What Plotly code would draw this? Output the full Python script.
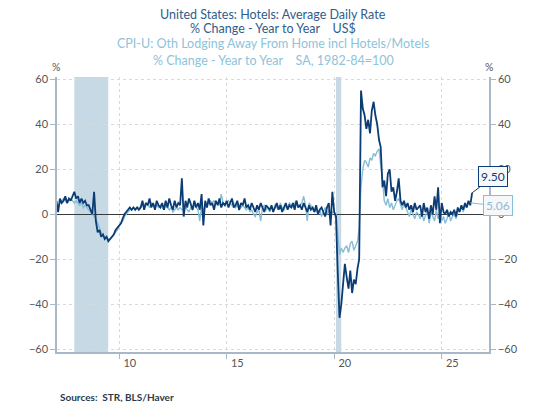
import plotly.graph_objects as go
import pandas as pd

# Hotels: Average Daily Rate, % change y/y (monthly, from Feb 2007)
adr_yoy = [
    6, 1, 7, 5, 6, 8, 5, 7, 6, 8, 10,                 # 2007 Feb-Dec
    7, 8, 5, 7, 5, 6, 4, 4, 2, 0, 10, -3,             # 2008
    -8, -7, -10, -9, -11, -10, -12, -11, -10, -9, -7, -6,  # 2009
    -5, -4, -2, 0, 1, 2, 3, 2, 3, 2, 3, 2,            # 2010
    3, 6, 2, 5, 4, 7, 3, 5, 2, 6, 4, 3,               # 2011
    5, 2, 6, 3, 7, 4, 2, 6, 3, 5, 4, 16,              # 2012
    -1, 6, 3, 7, 4, 2, 6, 3, 5, 2, 9, -5,             # 2013
    6, 3, 7, 4, 5, 2, 6, 4, 7, 3, 5, 4,               # 2014
    6, 3, 5, 7, 3, 4, 6, 2, 5, 4, 7, 3,               # 2015
    4, 2, 5, 3, 1, 4, 2, 5, 3, 1, 4, 3,               # 2016
    2, 4, 1, 3, 5, 2, 4, 1, 3, 5, 2, 4,               # 2017
    3, 5, 2, 6, 3, 4, 2, 5, 3, 1, 4, 2,               # 2018
    3, 1, 4, 0, 2, 3, 1, -1, 3, 5, -5, 10,            # 2019
    1, -1, -25, -46, -40, -30, -22, -28, -33, -25, -35, -29,  # 2020
    -31, -24, -20, 55, 47, 44, 38, 42, 36, 46, 50, 44,  # 2021
    40, 33, 30, 12, 15, 8, 18, 20, 10, 12, 6, 10,     # 2022
    16, 6, 4, 6, 3, 5, 2, 4, 1, 5, 2, 3,              # 2023
    4, -1, 5, 1, 3, -2, 4, 0, 8, 2, 12, -4,           # 2024
    5, 1, 0, 2, -1, 1, 0, 2, -1, 3, 1, 4,             # 2025
    2, 5, 3, 6, 4, 9.5,                               # 2026 Jan-Jun
]

# CPI-U: Other Lodging Away From Home incl Hotels/Motels, % change y/y
cpi_lodging_yoy = [
    4, 3, 5, 6, 7, 6, 5, 6, 7, 6, 5,                  # 2007 Feb-Dec
    6, 5, 4, 5, 3, 4, 3, 2, 1, 0, -1, -2,             # 2008
    -4, -6, -8, -9, -10, -10, -11, -11, -10, -9, -8, -7,  # 2009
    -5, -4, -3, -1, 0, 1, 2, 2, 3, 2, 3, 3,           # 2010
    3, 4, 4, 5, 4, 3, 5, 4, 3, 4, 3, 4,               # 2011
    3, 2, 4, 3, 2, 3, 1, 2, 3, 2, 3, 2,               # 2012
    2, 3, 2, 1, 3, 2, 4, 3, 2, -3, 4, 2,              # 2013
    3, 4, 5, 6, 5, 6, 5, 5, 4, 9, 5, 4,               # 2014
    5, 6, 5, 4, 5, 3, 4, 2, 3, 4, 3, 2,               # 2015
    3, 1, 2, 0, -1, 1, 2, -3, 3, 4, 2, 3,             # 2016
    1, 3, 2, 4, 3, 2, 5, 3, 2, 4, 3, 5,               # 2017
    4, 3, 5, 6, 3, 4, 5, 8, 4, -3, 5, 4,              # 2018
    2, 1, 3, 0, 2, -1, 1, 3, 0, 2, -2, 1,             # 2019
    1, 0, -8, -18, -15, -17, -15, -14, -17, -13, -12, -16,  # 2020
    -14, -12, -6, 12, 20, 24, 23, 21, 25, 24, 27, 26,  # 2021
    28, 29, 22, 16, 6, 4, 7, 3, 5, 2, 4, 6,           # 2022
    7, 4, 2, 5, 3, 1, -1, 2, 0, -2, 1, 0,             # 2023
    -2, 1, -3, 0, 2, -4, 1, -1, -3, 2, -2, 0,         # 2024
    -3, -1, -4, -2, 1, -3, -1, 0, -2, 1, 2, 3,        # 2025
    1, 4, 3, 5, 5.06,                                 # 2026 Jan-May
]

recession_start = ["2007-12-01", "2020-02-01"]
recession_end = ["2009-06-30", "2020-04-30"]

tick_years = ["2010-01-01", "2015-01-01", "2020-01-01", "2025-01-01"]
tick_text = ["10", "15", "20", "25"]
y_ticks = [-60, -40, -20, 0, 20, 40, 60]

dates_adr = pd.date_range("2007-02-01", periods=len(adr_yoy), freq="MS")
dates_cpi = pd.date_range("2007-02-01", periods=len(cpi_lodging_yoy), freq="MS")

DARK = "#0c3c74"
LIGHT = "#88bdd6"
AXIS = "#a9b8c8"
GRID = "#d9d9d9"
FONT = "Lato, 'Open Sans', sans-serif"
TICKFONT = dict(family=FONT, size=11, color="#555555")

fig = go.Figure()
fig.add_trace(go.Scatter(x=dates_cpi, y=cpi_lodging_yoy, mode="lines",
                         line=dict(color=LIGHT, width=1.4), showlegend=False))
fig.add_trace(go.Scatter(x=dates_adr, y=adr_yoy, mode="lines",
                         line=dict(color=DARK, width=1.8), showlegend=False))
# invisible trace to bring in the right axis
fig.add_trace(go.Scatter(x=[dates_adr[0]], y=[0], yaxis="y2", mode="lines",
                         line=dict(width=0), showlegend=False, hoverinfo="skip"))

for s, e in zip(recession_start, recession_end):
    fig.add_shape(type="rect", xref="x", yref="paper", x0=s, x1=e, y0=0, y1=1,
                  fillcolor="#c6d9e4", line=dict(width=0), layer="below")

fig.update_layout(
    width=545, height=402,
    margin=dict(l=57, r=56, t=77, b=50),
    paper_bgcolor="white", plot_bgcolor="white",
    showlegend=False,
    xaxis=dict(type="date", range=["2007-02-10", "2027-03-15"],
               tickvals=tick_years, ticktext=tick_text,
               ticks="outside", ticklen=5, tickcolor=AXIS,
               ticklabelposition="outside right", ticklabelshift=3,
               tickfont=TICKFONT,
               showline=True, linecolor=AXIS, linewidth=1.5,
               showgrid=True, gridcolor=GRID, griddash="dot", gridwidth=1,
               zeroline=False),
    yaxis=dict(range=[-61.2, 61.0], tickvals=y_ticks,
               ticks="outside", ticklen=5, tickcolor=AXIS,
               tickfont=TICKFONT,
               showline=True, linecolor=AXIS, linewidth=1.5,
               showgrid=True, gridcolor=GRID, griddash="dot", gridwidth=1,
               zeroline=True, zerolinecolor="#3a3a3a", zerolinewidth=1.2),
    yaxis2=dict(range=[-61.2, 61.0], tickvals=y_ticks, overlaying="y", side="right",
                ticks="outside", ticklen=5, tickcolor=AXIS,
                tickfont=TICKFONT,
                showline=True, linecolor=AXIS, linewidth=1.5,
                showgrid=False, zeroline=False),
)

title_lines = [
    ("United States: Hotels: Average Daily Rate", "#2f5d8c", 14),
    ("% Change - Year to Year    US$", "#2f5d8c", 29),
    ("CPI-U: Oth Lodging Away From Home incl Hotels/Motels", "#8ec3da", 44),
    ("% Change - Year to Year    SA, 1982-84=100", "#8ec3da", 60),
]
plot_top, plot_h = 77, 275
for text, col, ypx in title_lines:
    fig.add_annotation(text=text, xref="paper", yref="paper", x=0.5,
                       y=1 + (plot_top - ypx) / plot_h, yanchor="middle",
                       showarrow=False, font=dict(family=FONT, size=12.5, color=col))

for xp in [(50 - 57) / 432, (495 - 57) / 432]:
    fig.add_annotation(text="%", xref="paper", yref="paper", x=xp,
                       y=1 + (plot_top - 67) / plot_h, yanchor="middle",
                       showarrow=False, font=dict(family=FONT, size=10.5, color="#555555"))

fig.add_annotation(text="<b>Sources:  STR, BLS/Haver</b>", xref="paper", yref="paper",
                   x=(58 - 57) / 432, xanchor="left",
                   y=-(397 - 352) / plot_h, yanchor="middle", showarrow=False,
                   font=dict(family=FONT, size=10, color="#2b3a4a"))

# end-value labels
fig.add_annotation(x=dates_adr[-1], y=adr_yoy[-1], xref="x", yref="y",
                   text=f"{adr_yoy[-1]:.2f}", showarrow=True, arrowhead=0,
                   arrowcolor=DARK, arrowwidth=1, ax=21, ay=-16,
                   bordercolor=DARK, borderwidth=1, borderpad=2, bgcolor="#f6f7f9",
                   font=dict(family=FONT, size=12, color=DARK))
fig.add_annotation(x=dates_cpi[-1], y=cpi_lodging_yoy[-1], xref="x", yref="y",
                   text=f"{cpi_lodging_yoy[-1]:.2f}", showarrow=True, arrowhead=0,
                   arrowcolor=LIGHT, arrowwidth=1, ax=28, ay=3,
                   bordercolor=LIGHT, borderwidth=1, borderpad=2, bgcolor="#f6f7f9",
                   font=dict(family=FONT, size=12, color=LIGHT))

fig.write_html("out.html")
